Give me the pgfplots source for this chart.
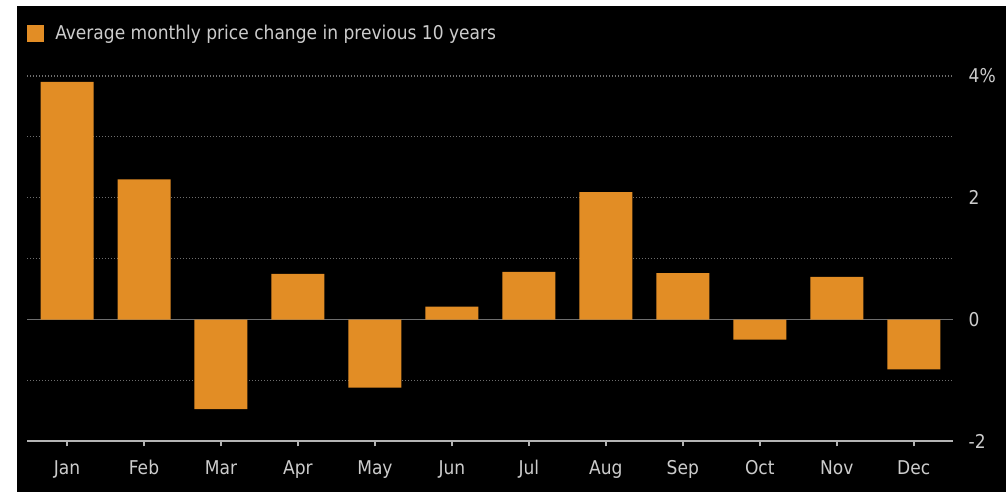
\documentclass[border=0pt]{standalone}
\usepackage{pgfplots}
\pgfplotsset{compat=1.18}
\usepackage{fontspec}
\setmainfont{DejaVu Sans Condensed}
\definecolor{barorange}{HTML}{E28D25}
\definecolor{textgray}{HTML}{CCCCCC}
\definecolor{gridgray}{HTML}{6E6E6E}
\definecolor{axisgray}{HTML}{B4B4B4}
\definecolor{zerogray}{HTML}{6E6E6E}
\begin{document}
\begin{tikzpicture}
\fill[white] (0,0) rectangle (251.5mm,123mm);
\fill[black] (4.25mm,0) rectangle (251.5mm,121.5mm);
\begin{axis}[
  at={(6.75mm,12.675mm)}, anchor=south west,
  scale only axis, width=231.5mm, height=91.35mm,
  xmin=-0.52, xmax=11.51, ymin=-2, ymax=4,
  ybar, bar width=13.25mm, bar shift=0pt,
  axis x line*=bottom, axis y line*=right,
  x axis line style={draw=axisgray, line width=0.5mm},
  y axis line style={draw=none},
  xtick={0,...,11},
  xticklabels={Jan,Feb,Mar,Apr,May,Jun,Jul,Aug,Sep,Oct,Nov,Dec},
  xtick style={draw=axisgray, line width=0.4mm},
  tick align=outside, major tick length=1.25mm,
  ytick={-2,0,2,4},
  yticklabels={-2,0,2,4\%},
  ytick style={draw=none},
  /pgf/number format/assume math mode=true,
  tick label style={text=textgray, font=\fontsize{13.5}{16}\selectfont},
  yticklabel style={anchor=west, inner sep=0pt, xshift=2.6mm},
  xticklabel style={anchor=base, inner sep=0pt, yshift=-7mm},
  clip=false,
  legend style={at={(axis description cs:0,1.1475)}, anchor=north west,
    draw=none, fill=none, text=textgray, inner sep=0pt,
    font=\fontsize{13.5}{16}\selectfont},
  legend image code/.code={\fill[barorange] (0mm,-2.125mm) rectangle (4.25mm,2.125mm);
    \path (6.3mm,0);},
]
\foreach \yy in {-1,1,2,3,4} {
  \edef\tmp{\noexpand\draw[gridgray, line width=0.3mm, dash pattern=on 0.3mm off 0.45mm] (axis cs:-0.52,\yy) -- (axis cs:11.51,\yy);}
  \tmp
}
\draw[zerogray, line width=0.45mm] (axis cs:-0.52,0) -- (axis cs:11.51,0);
\addplot[fill=barorange, draw=none] coordinates {
(0,3.90) (1,2.30) (2,-1.47) (3,0.75) (4,-1.12) (5,0.21)
(6,0.78) (7,2.09) (8,0.76) (9,-0.33) (10,0.70) (11,-0.82)
};
\addlegendentry{Average monthly price change in previous 10 years}
\end{axis}
\end{tikzpicture}
\end{document}
